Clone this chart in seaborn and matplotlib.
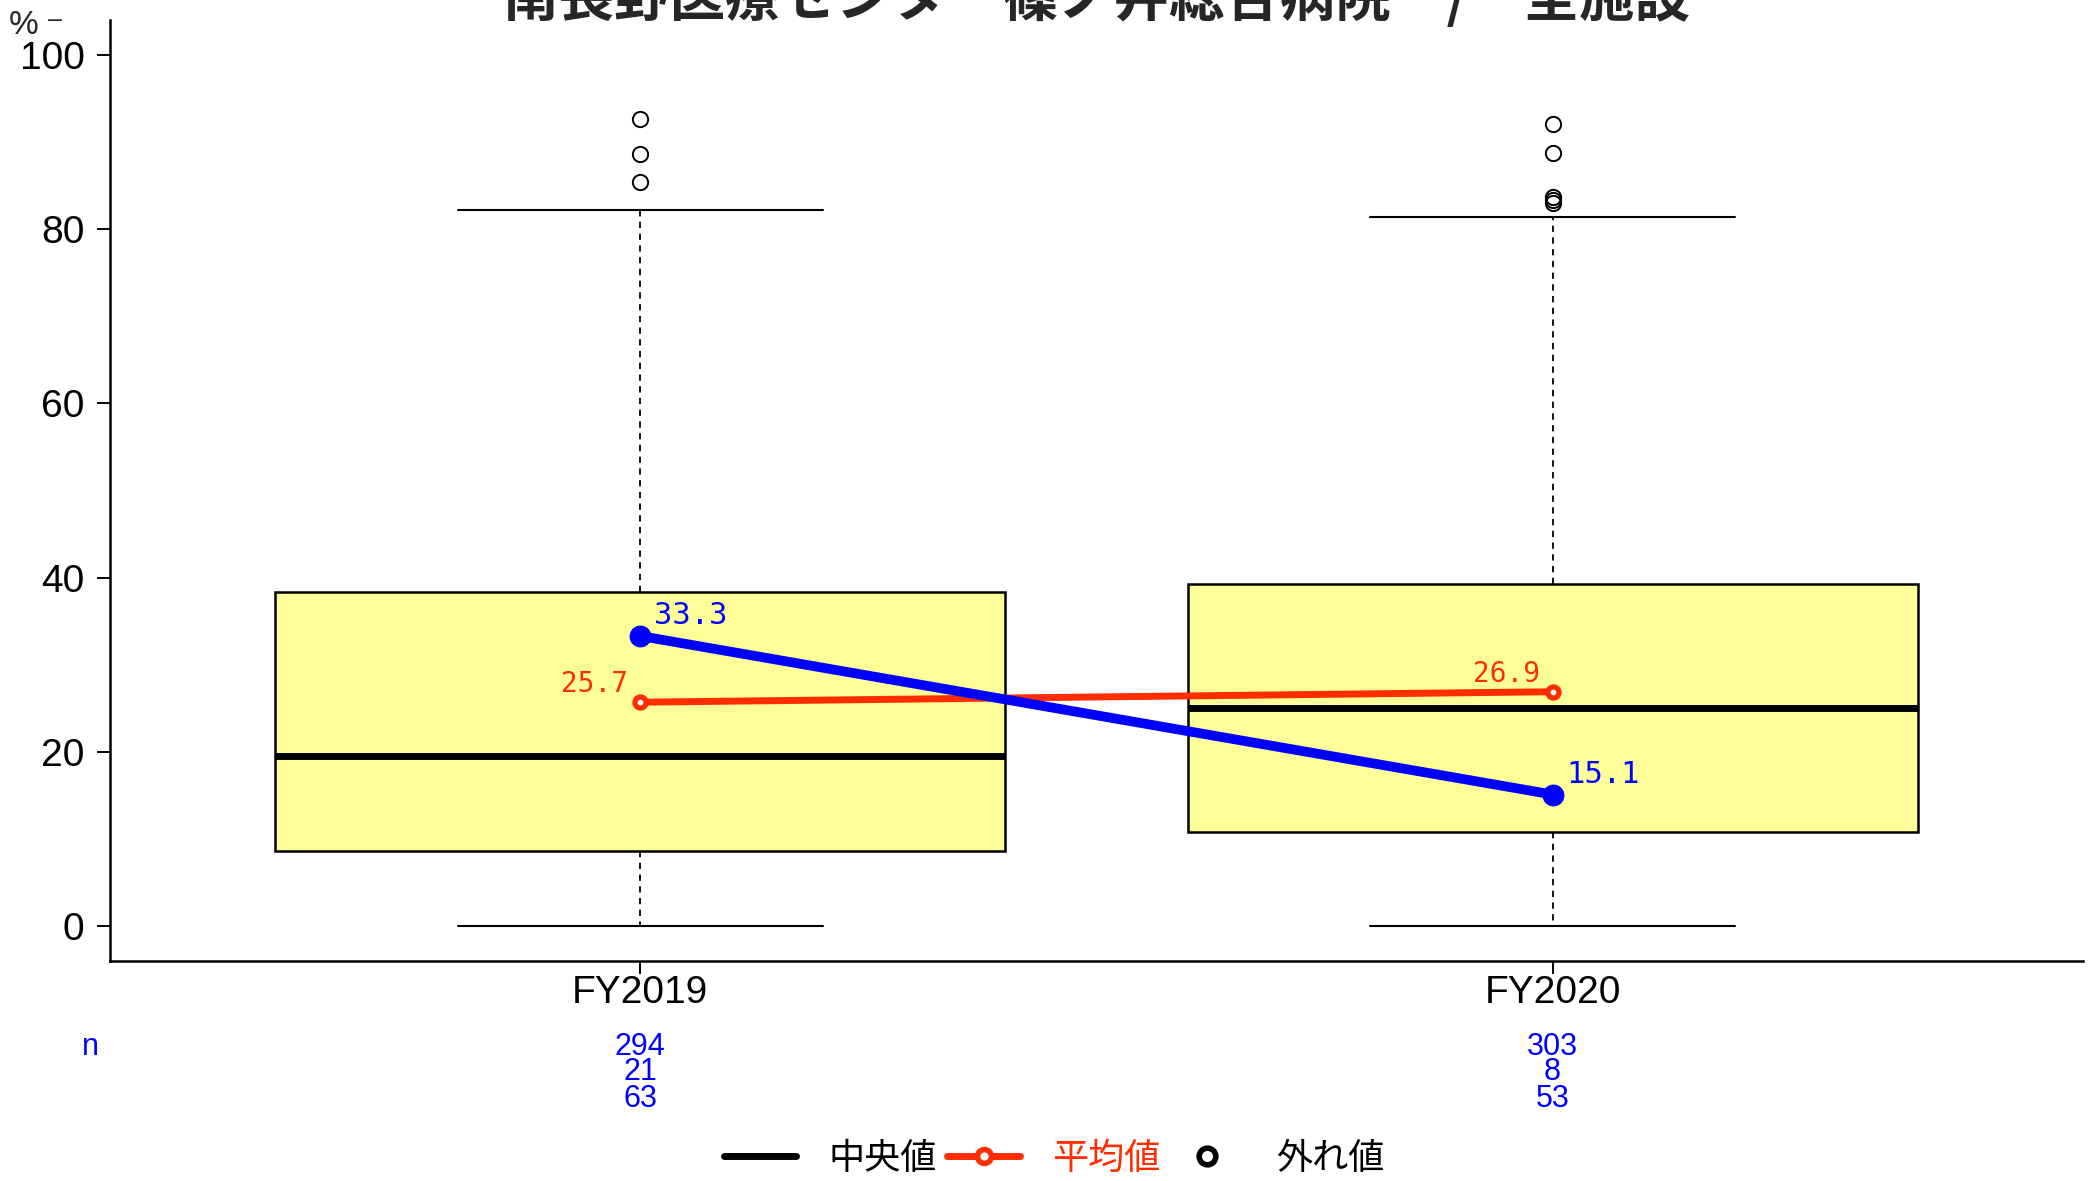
import matplotlib
matplotlib.use('Agg')
import matplotlib.pyplot as plt
import matplotlib.transforms as mtransforms
from matplotlib.lines import Line2D
import pandas as pd
import seaborn as sns

# values
years = ['FY2019', 'FY2020']
box_low = [0.0, 0.0]        # lower whisker end
box_q1 = [8.6, 10.8]
box_med = [19.5, 25.0]
box_q3 = [38.3, 39.3]
box_high = [82.2, 81.4]     # upper whisker end
outliers_2019 = [85.4, 88.6, 92.6]
outliers_2020 = [83.0, 83.3, 83.7, 88.7, 92.1]
mean_vals = [25.7, 26.9]
hosp_vals = [33.3, 15.1]
n_total = [294, 303]
n_num = [21, 8]
n_den = [63, 53]
y_ticks = [0, 20, 40, 60, 80, 100]
legend_labels = ['中央値', '平均値', '外れ値']

TITLE = '南長野医療センター篠ノ井総合病院　/　全施設'
RED = '#FF2D00'
BLUE = '#0000FF'
BOX_FILL = '#FFFF99'
NUM_FONT = ['Liberation Sans', 'DejaVu Sans']
JP_FONT = ['Noto Sans CJK JP', 'DejaVu Sans']
MONO_FONT = ['DejaVu Sans Mono']

sns.set_style('ticks')
plt.rcParams['font.family'] = NUM_FONT

df = pd.DataFrame({'pos': range(len(years)), 'year': years,
                   'mean': mean_vals, 'hosp': hosp_vals})

fig = plt.figure(figsize=(20.89, 11.81), dpi=100)
ax = fig.add_axes([0.0527, 0.1863, 0.9443, 0.7968])

# boxes from the summary stats
fliers = [outliers_2019, outliers_2020]
stats = []
for i, yr in enumerate(years):
    stats.append({'label': yr, 'whislo': box_low[i], 'q1': box_q1[i],
                  'med': box_med[i], 'q3': box_q3[i],
                  'whishi': box_high[i], 'fliers': fliers[i]})

ax.bxp(stats, positions=df['pos'], widths=0.8, capwidths=0.4,
       patch_artist=True,
       boxprops=dict(facecolor=BOX_FILL, edgecolor='black', linewidth=1.8),
       medianprops=dict(color='black', linewidth=5, solid_capstyle='butt'),
       whiskerprops=dict(color='black', linewidth=1.3, linestyle=(0, (3.5, 3))),
       capprops=dict(color='black', linewidth=1.5),
       flierprops=dict(marker='o', markerfacecolor='none', markeredgecolor='black',
                       markersize=11, markeredgewidth=1.4))

# mean line and the hospital's own value
sns.lineplot(data=df, x='pos', y='mean', ax=ax, color=RED, linewidth=5,
             marker='o', markersize=8, markerfacecolor='white',
             markeredgecolor=RED, markeredgewidth=3.8, zorder=4)
sns.lineplot(data=df, x='pos', y='hosp', ax=ax, color=BLUE, linewidth=7,
             marker='o', markersize=15, markeredgecolor=BLUE, zorder=5)

for i in range(len(years)):
    ax.annotate(f'{mean_vals[i]:.1f}', (i, mean_vals[i]), xytext=(-9, 13),
                textcoords='offset points', ha='right', va='center',
                color=RED, fontsize=20, family=MONO_FONT, zorder=6)
    ax.annotate(f'{hosp_vals[i]:.1f}', (i, hosp_vals[i]), xytext=(10, 14.5),
                textcoords='offset points', ha='left', va='center',
                color=BLUE, fontsize=22, family=MONO_FONT, zorder=6)

ax.set_xlim(-0.581, 1.581)
ax.set_ylim(-4, 104)
ax.set_yticks(y_ticks)
ax.set_xticks(df['pos'], years)
ax.set_xlabel('')
ax.set_ylabel('')
ax.tick_params(axis='both', direction='out', length=9.4, width=1.4,
               labelsize=28, colors='black')
ax.tick_params(axis='y', pad=9)
ax.tick_params(axis='x', pad=1)
sns.despine(ax=ax)
for s in ['left', 'bottom']:
    ax.spines[s].set_linewidth(1.8)
    ax.spines[s].set_color('black')

# title sits partly above the canvas, as in the original
fig.text(0.5251, 1 - 16 / 1181, TITLE, ha='center', va='baseline',
         fontsize=40, fontweight='bold', family=JP_FONT)
fig.text(24 / 2089, 1 - 25 / 1181, '%', ha='center', va='center', fontsize=24)
fig.text(55 / 2089, 1 - 20 / 1181, '–', ha='center', va='center', fontsize=18)

# n counts under the axis
trans = mtransforms.blended_transform_factory(ax.transData, fig.transFigure)
fig.text(90 / 2089, 1 - 1047 / 1181, 'n', ha='center', va='center',
         fontsize=22, color=BLUE)
for i in range(len(years)):
    for val, ypx in zip([n_total[i], n_num[i], n_den[i]], [1047, 1072, 1099]):
        ax.text(i, 1 - ypx / 1181, str(val), transform=trans, ha='center',
                va='center', fontsize=22, color=BLUE, clip_on=False)

handles = [Line2D([], [], color='black', lw=5),
           Line2D([], [], color=RED, lw=5, marker='o', ms=10, mfc='white',
                  mec=RED, mew=4),
           Line2D([], [], ls='none', marker='o', ms=12, mfc='none', mec='black', mew=4)]
leg = fig.legend(handles, legend_labels, loc='center',
                 bbox_to_anchor=(1054 / 2089, 1 - 1159 / 1181), ncol=3,
                 frameon=False, prop={'family': JP_FONT, 'size': 26},
                 handlelength=2.0, handletextpad=0.9, columnspacing=0.3,
                 borderpad=0, borderaxespad=0)
for t, c in zip(leg.get_texts(), ['black', RED, 'black']):
    t.set_color(c)

fig.savefig('out.png', dpi=100)
plt.close(fig)
